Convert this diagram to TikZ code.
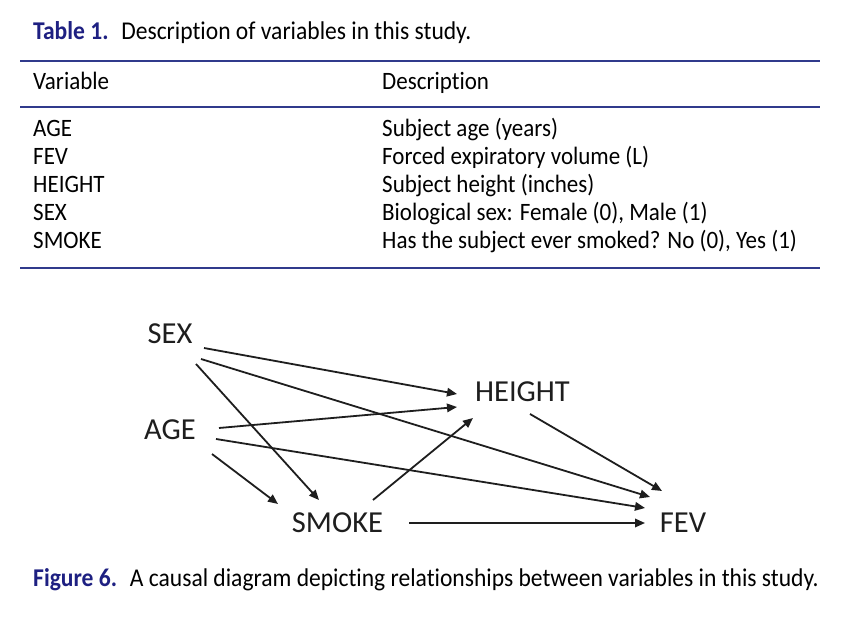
\documentclass[tikz,border=0pt]{standalone}
\usepackage{fontspec}
\setmainfont{Carlito}[Ligatures=NoCommon]
\newfontfamily\tabfont{Carlito}[FakeStretch=0.92,Ligatures=NoCommon]
\usetikzlibrary{calc,arrows.meta}
\definecolor{capblue}{RGB}{30,32,130}
\definecolor{ruleblue}{RGB}{48,58,140}
\definecolor{ink}{RGB}{30,30,30}
\tikzset{
  tabtxt/.style={anchor=base west,inner sep=0pt,font=\tabfont\fontsize{25}{28}\selectfont},
  captxt/.style={anchor=base west,inner sep=0pt,font=\tabfont\fontsize{25.6}{28}\selectfont},
  var/.style={inner sep=0pt,text=ink,font=\fontsize{30.5}{34}\selectfont},
  rulel/.style={draw=ruleblue,line width=2pt},
  arr/.style={draw=ink,line width=1.8pt,-{Triangle[length=10pt,width=8.5pt]}}
}
\begin{document}
\begin{tikzpicture}[x=1pt,y=-1pt]
\useasboundingbox (0,0) rectangle (844,628);
\fill[white] (0,0) rectangle (844,628);
% table
\node[captxt] (title) at (33,40) {\textcolor{capblue}{\textbf{Table 1.}}\hspace{0.5em}Description of variables in this study.};
\draw[rulel] (20,61) -- (820,61);
\node[tabtxt] (hv) at (33,90) {Variable};
\node[tabtxt] (hd) at (382,90) {Description};
\draw[rulel] (20,107) -- (820,107);
\node[tabtxt] (v1) at (33,137) {AGE};
\node[tabtxt] (d1) at (382,137) {Subject age (years)};
\node[tabtxt] (v2) at (33,165) {FEV};
\node[tabtxt] (d2) at (382,165) {Forced expiratory volume (L)};
\node[tabtxt] (v3) at (33,193) {HEIGHT};
\node[tabtxt] (d3) at (382,193) {Subject height (inches)};
\node[tabtxt] (v4) at (33,221) {SEX};
\node[tabtxt] (d4) at (382,221) {Biological sex: Female (0), Male (1)};
\node[tabtxt] (v5) at (33,249) {SMOKE};
\node[tabtxt] (d5) at (382,249) {Has the subject ever smoked? No (0), Yes (1)};
\draw[rulel] (20,268) -- (820,268);
% diagram
\node[var] (sex) at (170,334) {SEX};
\node[var] (age) at (170,430) {AGE};
\node[var] (height) at (522.5,392) {HEIGHT};
\node[var] (smoke) at (337.5,523) {SMOKE};
\node[var] (fev) at (683,523) {FEV};
\draw[arr] ($(sex)+(34,14)$) -- ($(height)+(-65.5,2)$);
\draw[arr] ($(sex)+(31,25)$) -- ($(fev)+(-33,-26)$);
\draw[arr] ($(sex)+(26,30)$) -- ($(smoke)+(-18.5,-23)$);
\draw[arr] ($(age)+(49,-2)$) -- ($(height)+(-65.5,15)$);
\draw[arr] ($(age)+(46,9)$) -- ($(fev)+(-38,-15)$);
\draw[arr] ($(age)+(42,24)$) -- ($(smoke)+(-59.5,-19)$);
\draw[arr] ($(smoke)+(35.5,-23)$) -- ($(height)+(-49.5,26)$);
\draw[arr] ($(smoke)+(71.5,0)$) -- ($(fev)+(-38,0)$);
\draw[arr] ($(height)+(7.5,22)$) -- ($(fev)+(-21,-32)$);
% caption
\node[captxt] (fig) at (33,586) {\textcolor{capblue}{\textbf{Figure 6.}}\hspace{0.5em}A causal diagram depicting relationships between variables in this study.};
\end{tikzpicture}
\end{document}
